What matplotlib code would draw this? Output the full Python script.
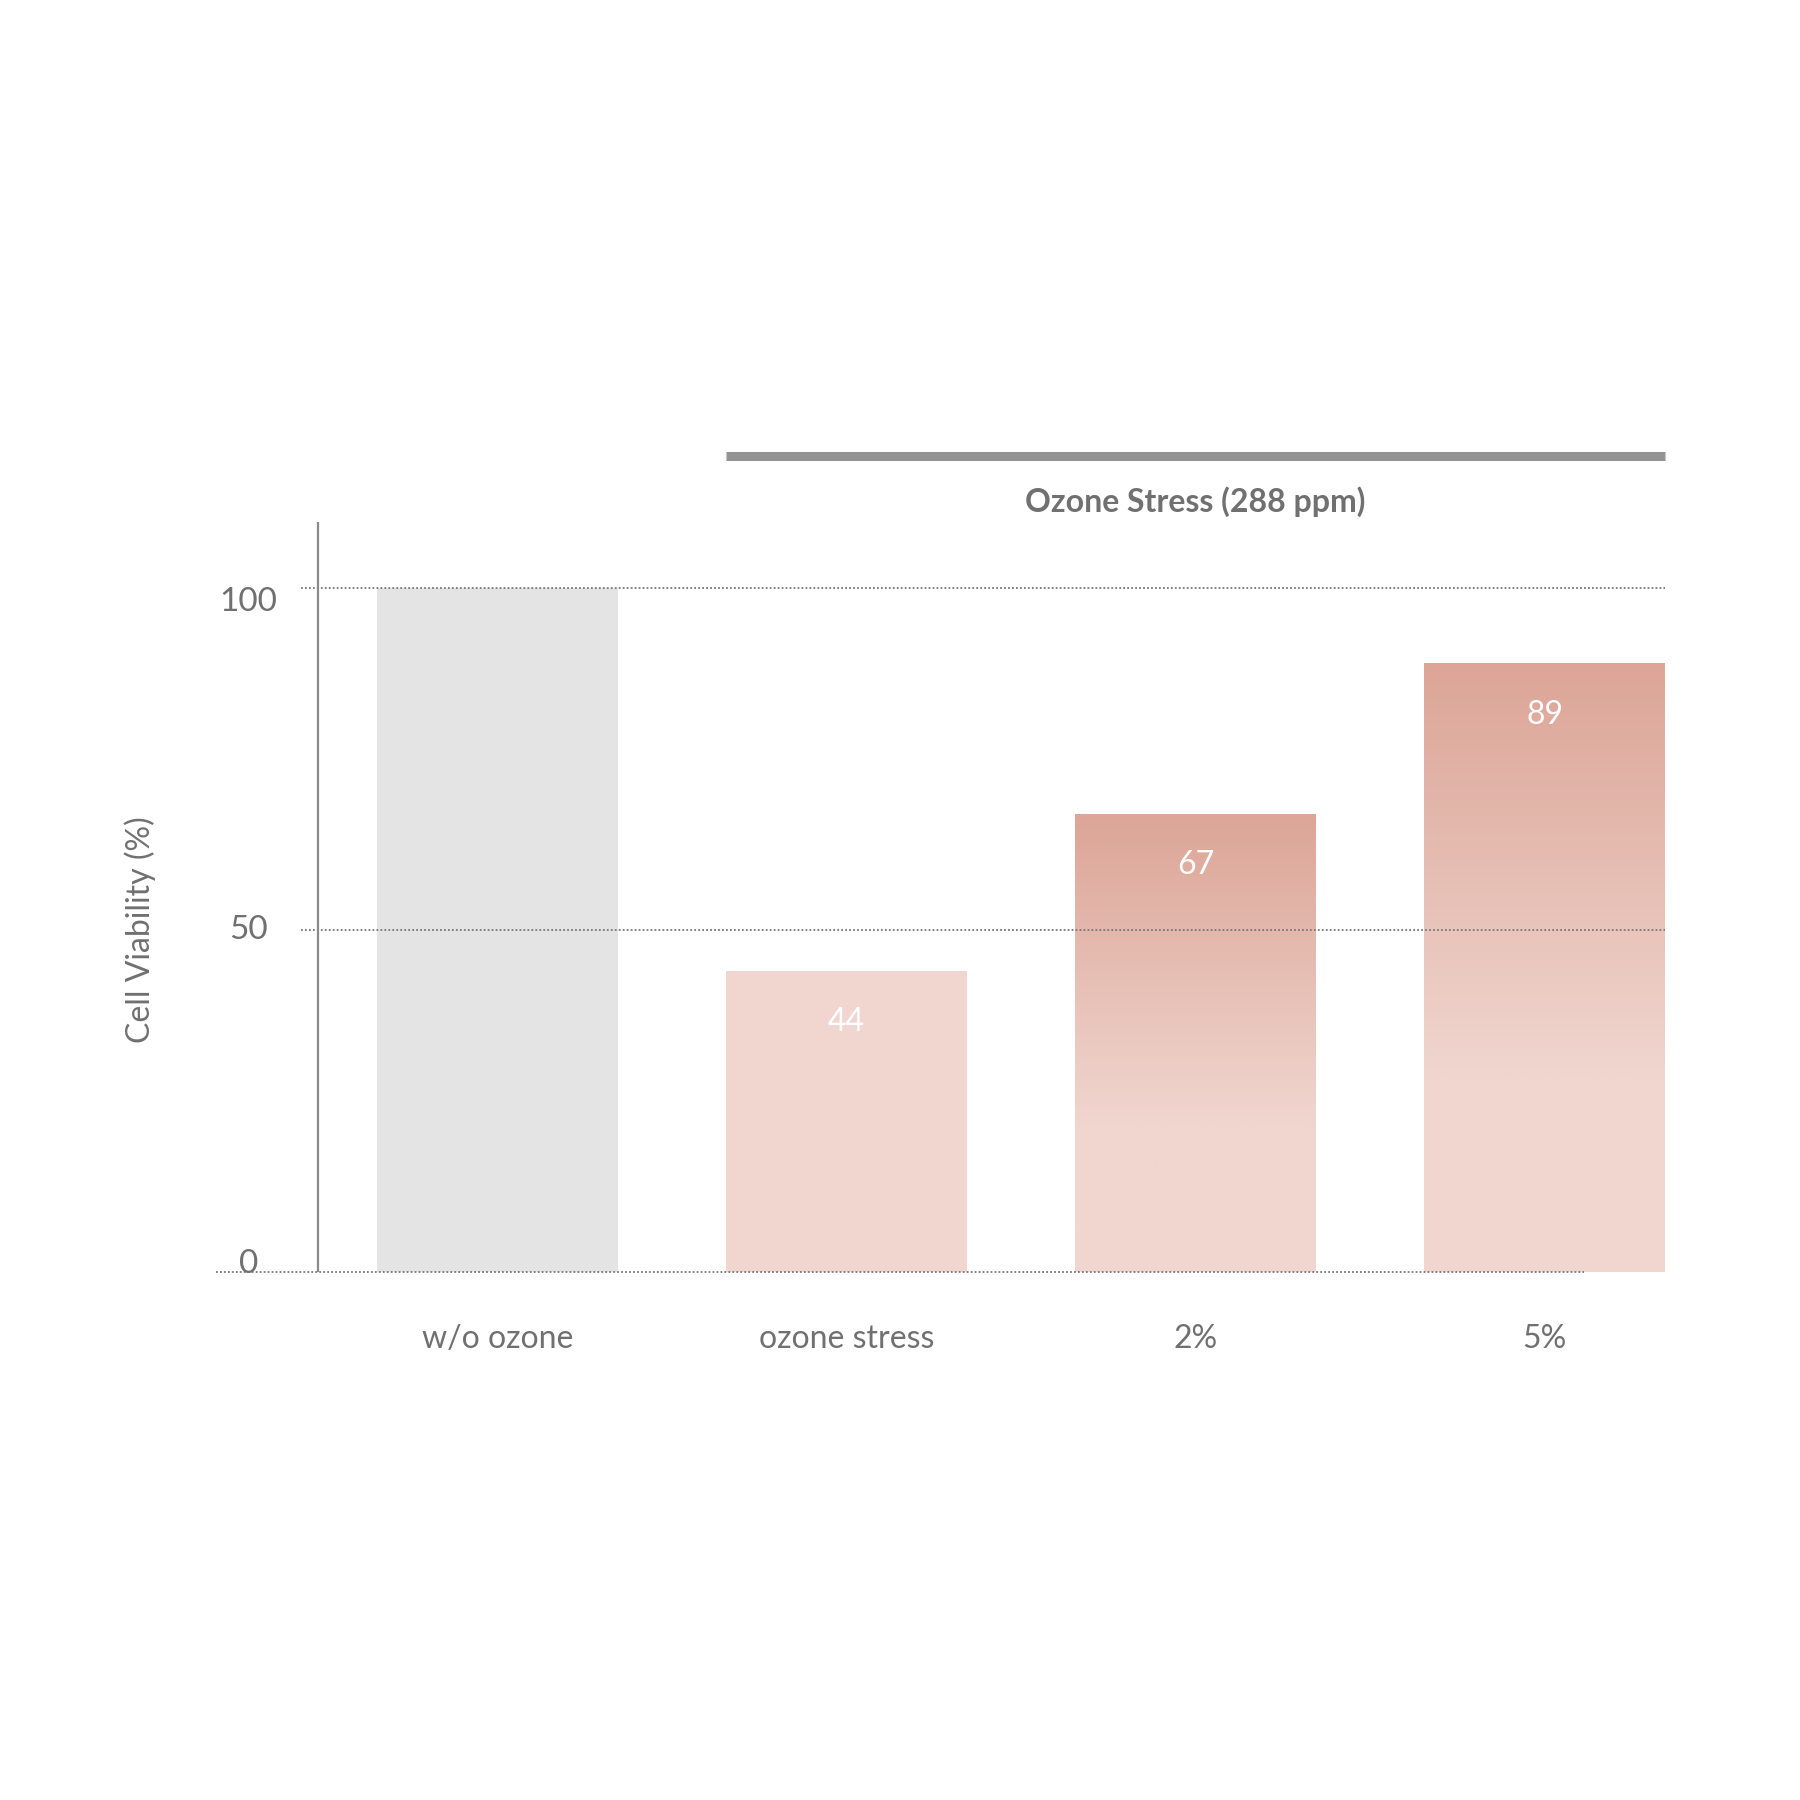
import numpy as np
import matplotlib
matplotlib.use("Agg")
import matplotlib.pyplot as plt
from matplotlib.colors import LinearSegmentedColormap

categories = ["w/o ozone", "ozone stress", "2%", "5%"]
viability = [100, 44, 67, 89]
value_labels = ["", "44", "67", "89"]
gradient_bar = [False, False, True, True]
yticks = [0, 50, 100]
group_title = "Ozone Stress (288 ppm)"
ylabel = "Cell Viability (%)"

TXT = "#707070"
GRAY_BAR = "#e4e4e4"
PINK_LIGHT = "#f0d6cf"
PINK_DARK = "#dca597"
FONT = ["Lato", "DejaVu Sans"]

plt.rcParams["font.family"] = FONT

fig = plt.figure(figsize=(18, 18), dpi=100)
# axes spans pixel x 200..1700, y (from top) 440..1400
ax = fig.add_axes([200 / 1800, 1 - 1400 / 1800, 1500 / 1800, 960 / 1800])
ax.set_axis_off()

px_per_unit_x = 349.0
x0_px = 497.5  # center of first bar
ax.set_xlim((200 - x0_px) / px_per_unit_x, (1700 - x0_px) / px_per_unit_x)
px_per_unit_y = (1272 - 588) / 100.0
ax.set_ylim((1272 - 1400) / px_per_unit_y, (1272 - 440) / px_per_unit_y)

x = np.arange(len(categories))
width = 241 / px_per_unit_x

# light at the bottom third, darkening towards the top of the bar
cmap = LinearSegmentedColormap.from_list(
    "pk", [(0, PINK_LIGHT), (0.32, PINK_LIGHT), (1, PINK_DARK)], N=256)

for xi, v, grad in zip(x, viability, gradient_bar):
    if xi == 0:
        ax.bar(xi, v, width=width, color=GRAY_BAR, zorder=1)
    elif not grad:
        ax.bar(xi, v, width=width, color=PINK_LIGHT, zorder=1)
    else:
        bar = ax.bar(xi, v, width=width, color="none", zorder=1)[0]
        g = np.linspace(0, 1, 256).reshape(-1, 1)
        im = ax.imshow(g, cmap=cmap, origin="lower", aspect="auto",
                       extent=[xi - width / 2, xi + width / 2, 0, v], zorder=1)
        im.set_clip_path(bar)

for xi, v, lab in zip(x, viability, value_labels):
    if lab:
        ax.text(xi, v - 7.5, lab, color="white", fontsize=23,
                ha="center", va="center", zorder=4)

# dotted gridlines
left_grid = (301 - x0_px) / px_per_unit_x
right_grid = x[-1] + width / 2
for t in yticks:
    if t == 0:
        ax.hlines(t, (216 - x0_px) / px_per_unit_x, (1584 - x0_px) / px_per_unit_x,
                  colors="#777777", linestyles=(0, (1, 1.2)), lw=1.3, zorder=3)
    else:
        ax.hlines(t, left_grid, right_grid, colors="#777777",
                  linestyles=(0, (1, 1.2)), lw=1.3, zorder=3)

# y axis line
yaxis_x = (318 - x0_px) / px_per_unit_x
ax.vlines(yaxis_x, 0, (1272 - 522) / px_per_unit_y, colors="#8a8a8a", lw=1.6, zorder=3)

nudge = {0: 1.2, 50: 0, 100: -2}
for t in yticks:
    ax.text(yaxis_x - 0.2, t + nudge[t], str(t), color=TXT, fontsize=24,
            ha="center", va="center", zorder=4)

ax.text((140 - x0_px) / px_per_unit_x, 50, ylabel, color=TXT, fontsize=23,
        rotation=90, ha="center", va="center")

for xi, c in zip(x, categories):
    ax.text(xi, -9.8, c, color=TXT, fontsize=23, ha="center", va="center")

# group bracket over the ozone-stress bars
gx0 = x[1] - width / 2
gx1 = x[3] + width / 2
ax.hlines(119.3, gx0, gx1, colors="#939393", lw=6.5, zorder=3)
ax.text((x[1] + x[3]) / 2, 112.6, group_title, color=TXT, fontsize=23,
        fontweight="bold", ha="center", va="center")

fig.savefig("out.png", dpi=100, facecolor="white")
